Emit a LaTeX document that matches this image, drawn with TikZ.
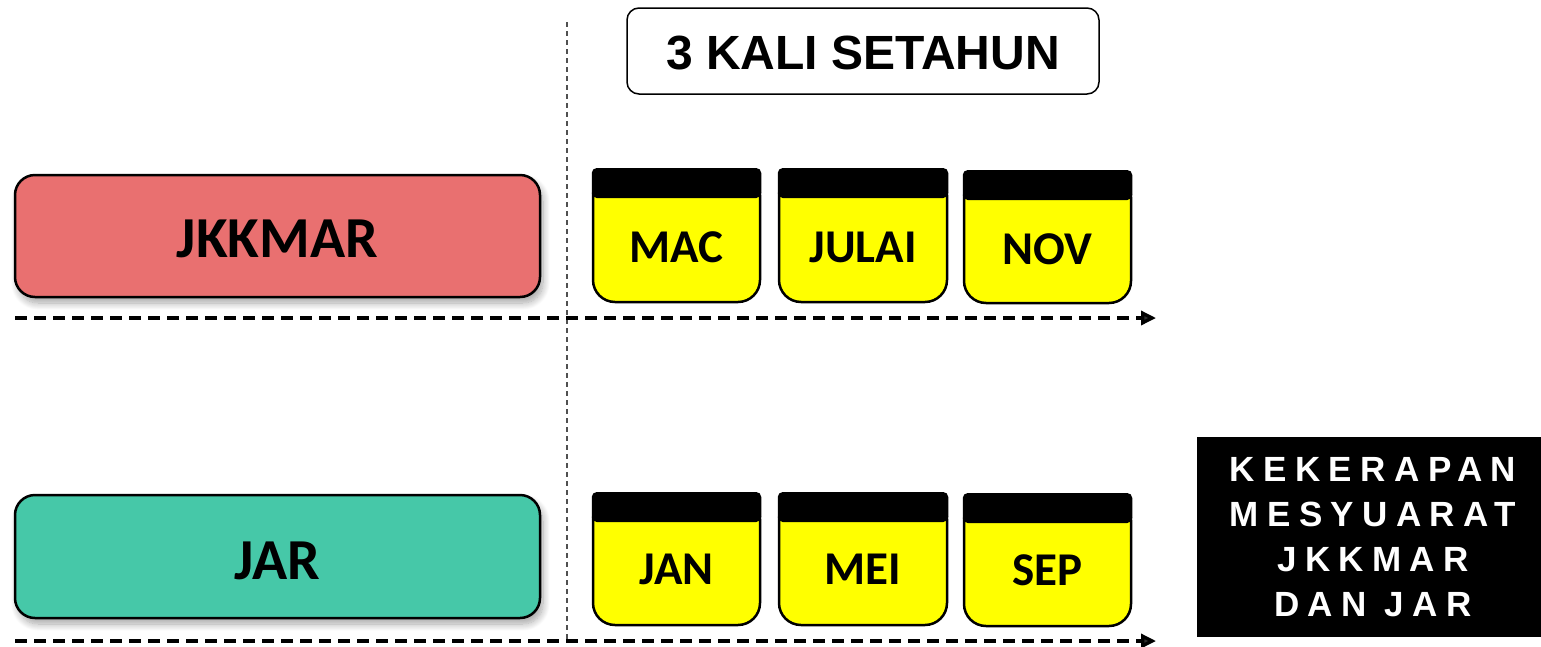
\documentclass[tikz,border=0pt]{standalone}
\usepackage{fontspec}
\setmainfont{Liberation Sans}
\newfontfamily\calfont{Carlito}
\newfontfamily\arfont{Liberation Sans}
\newfontfamily\spfont{Liberation Sans}[LetterSpace=24]
\usetikzlibrary{shadows,shadows.blur,arrows.meta}
\definecolor{redbox}{RGB}{233,112,112}
\definecolor{greenbox}{RGB}{70,200,168}
\definecolor{calyellow}{RGB}{255,255,0}
\definecolor{vgray}{RGB}{80,80,80}
\tikzset{
  groupbox/.style={draw=black, line width=2.5, rounded corners=20,
    blur shadow={shadow xshift=3pt, shadow yshift=-6pt, shadow opacity=35, shadow blur radius=7pt, shadow blur steps=10}},
  grouplabel/.style={font=\calfont\bfseries\fontsize{58}{60}\selectfont, anchor=base, inner sep=0pt},
  caltext/.style={font=\calfont\bfseries\fontsize{47}{50}\selectfont, anchor=base, inner sep=0pt},
  timeline/.style={line width=3.4pt, dash pattern=on 12pt off 7pt, -{Triangle[length=15pt,width=14pt]}},
}
\newcommand{\calicon}[4]{%
  \draw[line width=2.5, fill=calyellow, rounded corners=22] (#1,#3+5) rectangle (#2,#4);
  \fill[black, rounded corners=5] (#1-1.25,#3) rectangle (#2+1.25,#3+30);
}
\begin{document}
\begin{tikzpicture}[x=1pt,y=-1pt]
\useasboundingbox (0,0) rectangle (1541,646);

% vertical separator
\coordinate (vtop) at (567,22);
\coordinate (vbot) at (567,640);
\draw[vgray, line width=1.5, dash pattern=on 5 off 4] (vtop) -- (vbot);

% title
\draw[line width=1.5, rounded corners=12] (627,8) rectangle (1099,94);
\node[font=\arfont\bfseries\fontsize{48}{50}\selectfont, anchor=base, inner sep=0pt] (title) at (863,69) {3 KALI SETAHUN};

% group boxes
\path[groupbox, fill=redbox] (15,175) rectangle (540,297);
\node[grouplabel] (jkkmar) at (277.5,257) {JKKMAR};
\path[groupbox, fill=greenbox] (15,495) rectangle (540,618);
\node[grouplabel] (jar) at (277.5,579) {JAR};

% timelines
\coordinate (t1s) at (15,318);
\coordinate (t1e) at (1156,318);
\coordinate (t2s) at (15,641);
\coordinate (t2e) at (1156,641);
\draw[timeline] (t1s) -- (t1e);
\draw[timeline] (t2s) -- (t2e);

% calendars row 1
\calicon{593}{760}{168}{302}
\calicon{779}{947}{168}{302}
\calicon{964}{1131}{170}{303}
\node[caltext] (mac) at (676.5,262) {MAC};
\node[caltext] (julai) at (863,262) {JULAI};
\node[caltext] (nov) at (1047.5,264) {NOV};

% calendars row 2
\calicon{593}{760}{492}{625}
\calicon{779}{947}{492}{625}
\calicon{964}{1131}{493}{626}
\node[caltext] (jan) at (676.5,584) {JAN};
\node[caltext] (mei) at (863,584) {MEI};
\node[caltext] (sep) at (1047.5,585) {SEP};

% legend box
\fill[black] (1197,437) rectangle (1541,637);
\node[text=white, align=center, inner sep=0pt, font=\spfont\bfseries\fontsize{35}{45}\selectfont] (legend) at (1373,537) {KEKERAPAN\\MESYUARAT\\JKKMAR\\DAN JAR};
\end{tikzpicture}
\end{document}
